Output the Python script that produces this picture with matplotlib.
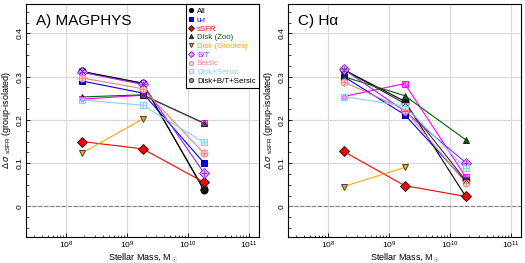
import numpy as np
import matplotlib
matplotlib.use('Agg')
import matplotlib.pyplot as plt
from matplotlib.ticker import MultipleLocator

plt.rcParams['font.family'] = ['Liberation Sans', 'DejaVu Sans']
plt.rcParams['mathtext.fontset'] = 'custom'
plt.rcParams['mathtext.rm'] = 'Liberation Sans'
plt.rcParams['mathtext.it'] = 'Liberation Sans:italic'

mass = [1.8e8, 1.8e9, 1.8e10]

names = ['All', 'u-r', 'sSFR', 'Disk (Zoo)', 'Disk (Grootes)', 'B/T',
         'Sersic', 'Disk+Sersic', 'Disk+B/T+Sersic']

# panel A (MAGPHYS)
mag_all     = [0.312, 0.285, 0.038]
mag_ur      = [0.290, 0.262, 0.101]
mag_ssfr    = [0.150, 0.133, 0.056]
mag_zoo     = [0.253, 0.258, 0.193]
mag_grootes = [0.123, 0.202, np.nan]
mag_bt      = [0.310, 0.282, 0.078]
mag_sersic  = [0.297, 0.272, 0.123]
mag_dsersic = [0.246, 0.234, 0.148]
mag_dbts    = [0.312, 0.284, 0.040]
mag_extra   = [0.248, 0.257, 0.192]

# panel C (Halpha)
ha_all     = [0.316, 0.243, 0.023]
ha_ur      = [0.300, 0.212, 0.058]
ha_ssfr    = [0.127, 0.048, 0.023]
ha_zoo     = [0.300, 0.256, 0.154]
ha_grootes = [0.046, 0.090, np.nan]
ha_bt      = [0.317, 0.220, 0.101]
ha_sersic  = [0.288, 0.224, 0.054]
ha_dsersic = [0.254, 0.232, 0.088]
ha_dbts    = [0.316, 0.238, 0.060]
ha_extra   = [0.254, 0.284, 0.068]

# (line colour, marker, face, edge, overlay marker)
styles = [
    ('black',        'o', 'black',      'black',     None),
    ('#0000ff',      's', '#0000ff',    '#000080',   None),
    ('#ff0000',      'D', '#ff0000',    '#202020',   None),
    ('#006400',      '^', '#006400',    '#202020',   None),
    ('#ffa500',      'v', '#ffa500',    '#404040',   None),
    ('#a020f0',      'D', '#d8b0ff',    '#a020f0',   '+'),
    ('#f08080',      'o', '#ffd0d0',    '#f08080',   '+'),
    ('#87cefa',      's', '#e0f2ff',    '#87cefa',   '+'),
    ('#303030',      'o', '#a0a0a0',    '#303030',   'x'),
]
extra_style = ('#ff00ff', 's', 'none', '#ff00ff', 'o')

# drawing order: Disk+B/T+Sersic underneath, then All, then the rest
order = [8, 0, 1, 2, 3, 4, 5, 6, 7]

fig = plt.figure(figsize=(5.25, 2.63), dpi=100)
ax1 = fig.add_axes([0.0495, 0.100, 0.4440, 0.885])
ax2 = fig.add_axes([0.5486, 0.100, 0.4438, 0.885])


def draw_series(ax, y, st, label=None):
    lc, m, fc, ec, ov = st
    ax.plot(mass, y, color=lc, lw=0.8, zorder=3)
    h, = ax.plot(mass, y, ls='none', marker=m, ms=5, mfc=fc, mec=ec, mew=0.7,
                 zorder=4, label=label)
    if ov is not None:
        if ov == 'o':
            ax.plot(mass, y, ls='none', marker='o', ms=2.8, mfc='none',
                    mec=ec, mew=0.6, zorder=5)
        else:
            ax.plot(mass, y, ls='none', marker=ov, ms=4, mec=ec, mew=0.6,
                    zorder=5)
    return h


def setup(ax, title):
    ax.set_xscale('log')
    ax.set_xlim(2.2e7, 1.45e11)
    ax.set_ylim(-0.07, 0.468)
    ax.set_yticks([0, 0.1, 0.2, 0.3, 0.4])
    ax.set_yticklabels(['0', '0.1', '0.2', '0.3', '0.4'], rotation=90, va='center')
    ax.yaxis.set_minor_locator(MultipleLocator(0.025))
    ax.grid(True, which='major', color='#d8d8d8', lw=0.8)
    ax.set_axisbelow(True)
    ax.axhline(0, color='#808080', lw=0.8, ls='--', zorder=2)
    ax.tick_params(labelsize=6, length=3, width=0.6, pad=2, direction='in')
    ax.tick_params(which='minor', length=1.8, width=0.5, direction='in')
    for sp in ax.spines.values():
        sp.set_linewidth(0.8)
    ax.set_xlabel(r'Stellar Mass, M$_\odot$', fontsize=6.5, labelpad=0.5)
    ax.set_ylabel(r'$\Delta\,\sigma$ $_{\rm sSFR}$ (group-isolated)', fontsize=6.5, labelpad=2)
    ax.text(0.045, 0.955, title, transform=ax.transAxes, fontsize=11,
            ha='left', va='top')


mag = [mag_all, mag_ur, mag_ssfr, mag_zoo, mag_grootes, mag_bt,
       mag_sersic, mag_dsersic, mag_dbts]
ha = [ha_all, ha_ur, ha_ssfr, ha_zoo, ha_grootes, ha_bt,
      ha_sersic, ha_dsersic, ha_dbts]

draw_series(ax1, mag_extra, extra_style)
handles = {}
for i in order:
    handles[i] = draw_series(ax1, mag[i], styles[i], names[i])
draw_series(ax2, ha_extra, extra_style)
for i in order:
    draw_series(ax2, ha[i], styles[i])

setup(ax1, 'A) MAGPHYS')
setup(ax2, 'C) H\u03b1')

leg = ax1.legend([handles[i] for i in range(9)], names, loc='upper right',
                 fontsize=5.7, markerscale=0.6, handlelength=0.6,
                 handletextpad=0.4, labelspacing=0.15, borderpad=0.4,
                 borderaxespad=0.05, frameon=True, fancybox=False,
                 framealpha=1)
leg.get_frame().set_edgecolor('black')
leg.get_frame().set_linewidth(0.8)
for t, st in zip(leg.get_texts(), styles):
    t.set_color(st[0])
leg.get_texts()[0].set_color('black')
leg.get_texts()[-1].set_color('black')

fig.savefig('out.png', dpi=100)
